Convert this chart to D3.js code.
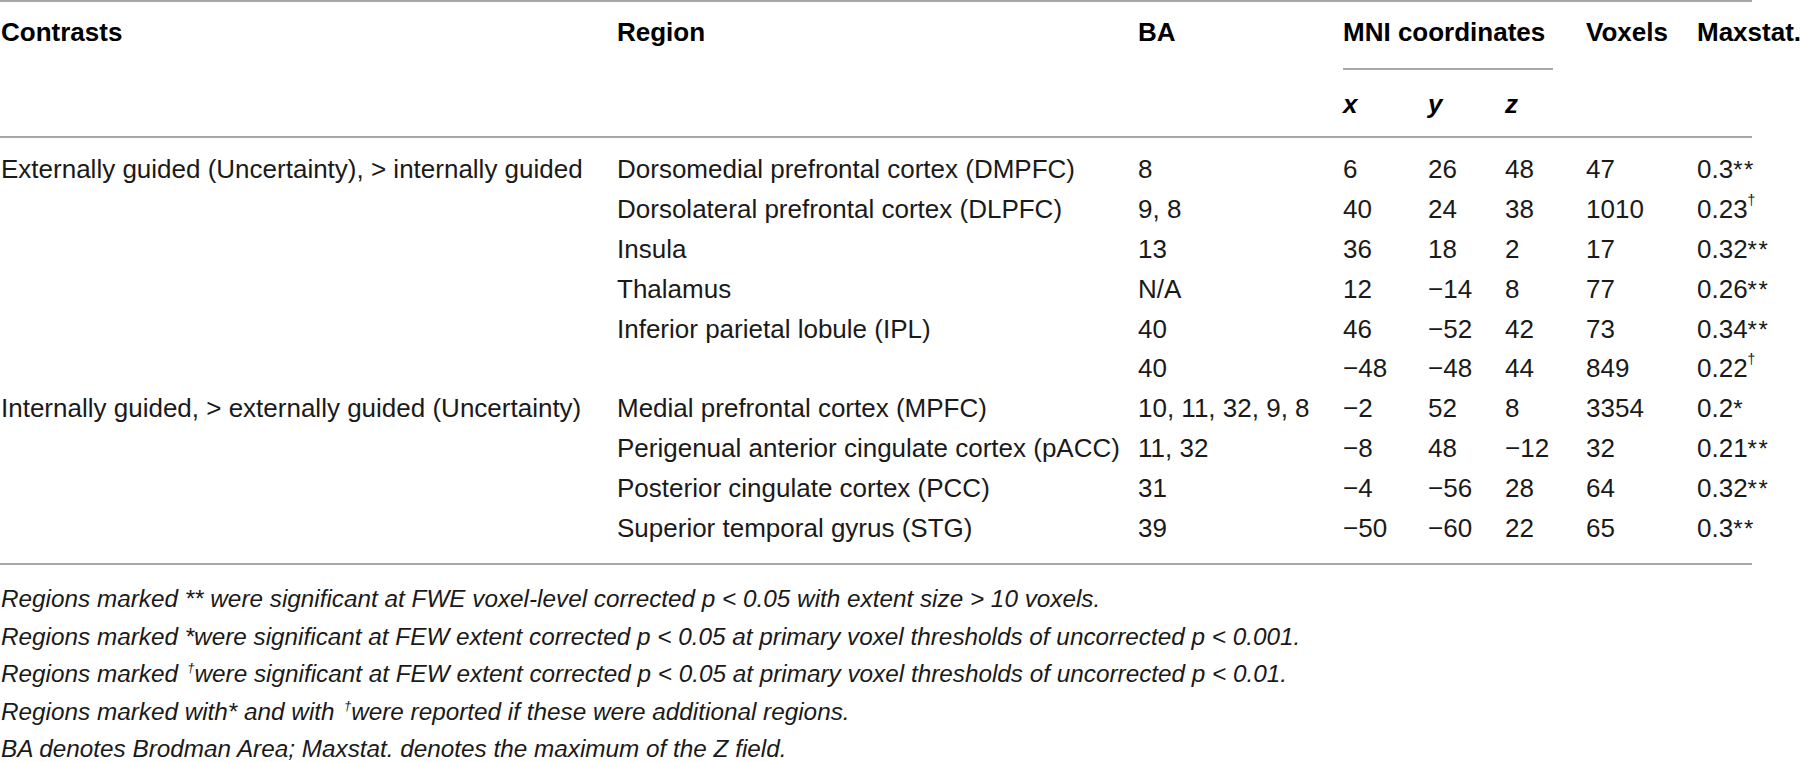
<!DOCTYPE html>
<html>
<head>
<meta charset="utf-8">
<script src="https://cdn.jsdelivr.net/npm/d3@7"></script>
<style>
  html, body { margin: 0; padding: 0; background: #fff; }
  svg { display: block; }
</style>
</head>
<body>
<svg id="chart" width="1802" height="762"></svg>
<script>
// ---------- data ----------
const headers = ["Contrasts", "Region", "BA", "MNI coordinates", "Voxels", "Maxstat."];
const axisLabels = ["x", "y", "z"];
const contrasts = [
  "Externally guided (Uncertainty), > internally guided", "", "", "", "", "",
  "Internally guided, > externally guided (Uncertainty)", "", "", ""
];
const regions = [
  "Dorsomedial prefrontal cortex (DMPFC)",
  "Dorsolateral prefrontal cortex (DLPFC)",
  "Insula",
  "Thalamus",
  "Inferior parietal lobule (IPL)",
  "",
  "Medial prefrontal cortex (MPFC)",
  "Perigenual anterior cingulate cortex (pACC)",
  "Posterior cingulate cortex (PCC)",
  "Superior temporal gyrus (STG)"
];
const ba = ["8", "9, 8", "13", "N/A", "40", "40", "10, 11, 32, 9, 8", "11, 32", "31", "39"];
const mniX = [6, 40, 36, 12, 46, -48, -2, -8, -4, -50];
const mniY = [26, 24, 18, -14, -52, -48, 52, 48, -56, -60];
const mniZ = [48, 38, 2, 8, 42, 44, 8, -12, 28, 22];
const voxels = [47, 1010, 17, 77, 73, 849, 3354, 32, 64, 65];
const maxstat = ["0.3", "0.23", "0.32", "0.26", "0.34", "0.22", "0.2", "0.21", "0.32", "0.3"];
const marks = ["**", "\u2020", "**", "**", "**", "\u2020", "*", "**", "**", "**"];
const footnotes = [
  "Regions marked ** were significant at FWE voxel-level corrected p < 0.05 with extent size > 10 voxels.",
  "Regions marked *were significant at FEW extent corrected p < 0.05 at primary voxel thresholds of uncorrected p < 0.001.",
  "Regions marked \u2020were significant at FEW extent corrected p < 0.05 at primary voxel thresholds of uncorrected p < 0.01.",
  "Regions marked with* and with \u2020were reported if these were additional regions.",
  "BA denotes Brodman Area; Maxstat. denotes the maximum of the Z field."
];

// ---------- layout ----------
const svg = d3.select("#chart");
const FONT = "'Liberation Sans', Arial, Helvetica, sans-serif";
const ink = "#1a1a1a";
const ruleColor = "#a8a8a8";
const BODY = 26, HEAD = 26, NOTE = 24.3;

const colKeys = ["contrast", "region", "ba", "x", "y", "z", "voxels", "maxstat"];
const colX = d3.scaleOrdinal().domain(colKeys).range([1, 617, 1138, 1343, 1428, 1505, 1586, 1697]);
const rowY = d3.scaleLinear().domain([0, 9]).range([178, 537]);
const noteY = d3.scaleLinear().domain([0, 4]).range([607, 757]);
const tableLeft = 0, tableRight = 1752;

function fmt(v) { return v < 0 ? "\u2212" + Math.abs(v) : String(v); }

// rules
const rules = [
  {x1: tableLeft, x2: tableRight, y: 1},
  {x1: colX("x"), x2: 1553, y: 69},
  {x1: tableLeft, x2: tableRight, y: 137},
  {x1: tableLeft, x2: tableRight, y: 564}
];
svg.selectAll("line.rule").data(rules).enter().append("line")
  .attr("class", "rule")
  .attr("x1", d => d.x1).attr("x2", d => d.x2)
  .attr("y1", d => d.y).attr("y2", d => d.y)
  .attr("stroke", ruleColor).attr("stroke-width", 2);

// headers
const headerCols = ["contrast", "region", "ba", "x", "voxels", "maxstat"];
svg.selectAll("text.hdr").data(headers).enter().append("text")
  .attr("class", "hdr")
  .attr("x", (d, i) => colX(headerCols[i]))
  .attr("y", 41)
  .attr("font-family", FONT).attr("font-weight", "bold").attr("font-size", HEAD)
  .attr("fill", "#000")
  .text(d => d);

svg.selectAll("text.axl").data(axisLabels).enter().append("text")
  .attr("class", "axl")
  .attr("x", d => colX(d))
  .attr("y", 113)
  .attr("font-family", FONT).attr("font-weight", "bold").attr("font-style", "italic").attr("font-size", HEAD)
  .attr("fill", "#000")
  .text(d => d);

// body rows
const rows = d3.range(regions.length).map(i => ({
  contrast: contrasts[i], region: regions[i], ba: ba[i],
  x: fmt(mniX[i]), y: fmt(mniY[i]), z: fmt(mniZ[i]),
  voxels: String(voxels[i]), maxstat: maxstat[i], mark: marks[i], i
}));

const bodyCols = ["contrast", "region", "ba", "x", "y", "z", "voxels"];
const rowG = svg.selectAll("g.row").data(rows).enter().append("g")
  .attr("class", "row")
  .attr("transform", d => `translate(0,${rowY(d.i)})`);

bodyCols.forEach(k => {
  rowG.append("text")
    .attr("x", colX(k))
    .attr("font-family", FONT).attr("font-size", BODY)
    .attr("fill", ink)
    .text(d => d[k]);
});

const ms = rowG.append("text")
  .attr("x", colX("maxstat"))
  .attr("font-family", FONT).attr("font-size", BODY)
  .attr("fill", ink);
ms.append("tspan").text(d => d.maxstat);
ms.append("tspan")
  .attr("font-size", d => d.mark === "\u2020" ? 14 : 24)
  .attr("letter-spacing", d => d.mark === "\u2020" ? 0 : 1.5)
  .attr("dy", d => d.mark === "\u2020" ? -13 : 0)
  .text(d => d.mark);

// footnotes
const notes = svg.selectAll("text.note").data(footnotes).enter().append("text")
  .attr("class", "note")
  .attr("x", 1)
  .attr("y", (d, i) => noteY(i))
  .attr("font-family", FONT).attr("font-style", "italic").attr("font-size", NOTE)
  .attr("fill", ink);

notes.each(function(d) {
  const t = d3.select(this);
  const parts = d.split("\u2020");
  parts.forEach((p, j) => {
    if (j > 0) {
      t.append("tspan").attr("font-size", 13).attr("dy", -10).text("\u2009\u2020");
      t.append("tspan").attr("dy", 10).text(p);
    } else {
      t.append("tspan").text(p);
    }
  });
});
</script>
</body>
</html>
